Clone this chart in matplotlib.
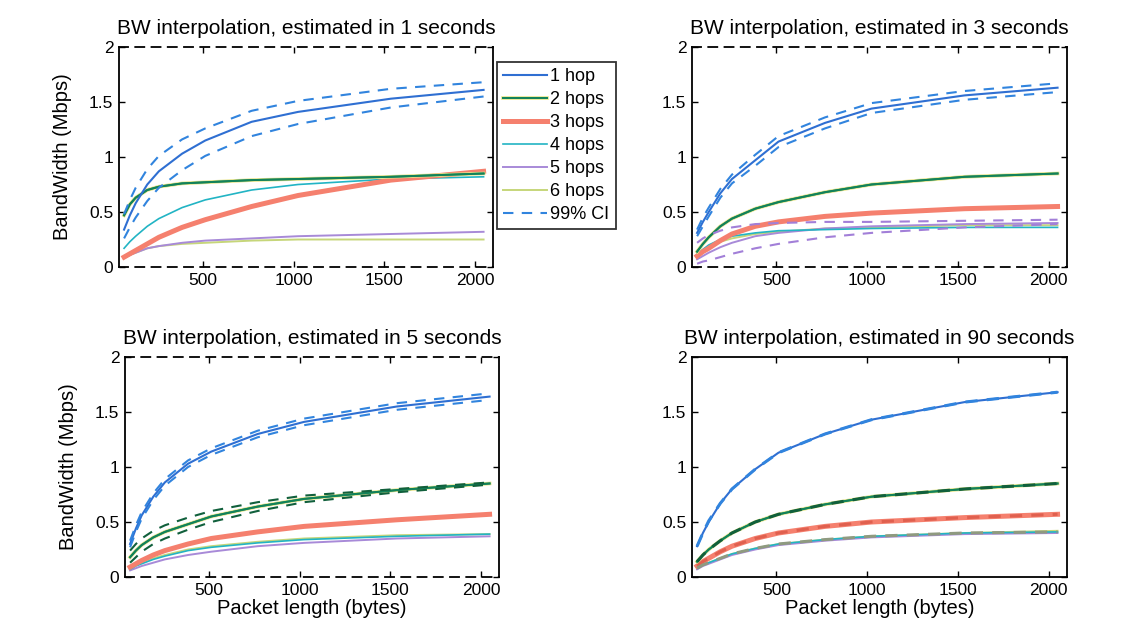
import numpy as np
import matplotlib
matplotlib.use('Agg')
import matplotlib.pyplot as plt
import matplotlib.patheffects as pe

plt.rcParams['font.family'] = ['Liberation Sans', 'DejaVu Sans']

packet_len = [64, 96, 128, 192, 256, 384, 512, 768, 1024, 1536, 2048]
hop_labels = ['1 hop', '2 hops', '3 hops', '4 hops', '5 hops', '6 hops']
est_seconds = [1, 3, 5, 90]

# --- estimated in 1 s
bw1_h1 = [0.34, 0.47, 0.58, 0.75, 0.87, 1.03, 1.15, 1.32, 1.41, 1.53, 1.61]
bw1_h2 = [0.47, 0.57, 0.63, 0.70, 0.73, 0.76, 0.77, 0.79, 0.80, 0.82, 0.85]
bw1_h3 = [0.09, 0.12, 0.15, 0.21, 0.27, 0.36, 0.43, 0.55, 0.65, 0.79, 0.87]
bw1_h4 = [0.17, 0.23, 0.28, 0.37, 0.44, 0.54, 0.61, 0.70, 0.75, 0.80, 0.82]
bw1_h5 = [0.08, 0.11, 0.13, 0.17, 0.19, 0.22, 0.24, 0.26, 0.28, 0.30, 0.32]
bw1_h6 = [0.08, 0.11, 0.13, 0.17, 0.19, 0.21, 0.22, 0.24, 0.25, 0.25, 0.25]
ci1_h1_hi = [0.48, 0.61, 0.72, 0.89, 1.01, 1.16, 1.26, 1.42, 1.51, 1.62, 1.68]
ci1_h1_lo = [0.26, 0.36, 0.45, 0.60, 0.72, 0.88, 1.01, 1.19, 1.30, 1.45, 1.55]

# --- estimated in 3 s
bw3_h1 = [0.31, 0.41, 0.50, 0.67, 0.80, 0.97, 1.14, 1.31, 1.44, 1.56, 1.63]
bw3_h2 = [0.14, 0.21, 0.27, 0.37, 0.44, 0.53, 0.59, 0.68, 0.75, 0.82, 0.85]
bw3_h3 = [0.10, 0.14, 0.17, 0.24, 0.30, 0.37, 0.41, 0.46, 0.49, 0.53, 0.55]
bw3_h4 = [0.12, 0.16, 0.20, 0.25, 0.28, 0.31, 0.33, 0.34, 0.35, 0.36, 0.36]
bw3_h5 = [0.07, 0.10, 0.13, 0.18, 0.22, 0.28, 0.31, 0.35, 0.37, 0.39, 0.40]
bw3_h6 = [0.10, 0.14, 0.18, 0.23, 0.26, 0.30, 0.32, 0.35, 0.36, 0.38, 0.38]
ci3_h1_hi = [0.34, 0.45, 0.54, 0.71, 0.84, 1.02, 1.19, 1.36, 1.49, 1.60, 1.67]
ci3_h1_lo = [0.28, 0.37, 0.46, 0.63, 0.76, 0.92, 1.09, 1.26, 1.40, 1.52, 1.59]
ci3_h5_hi = [0.22, 0.26, 0.29, 0.33, 0.36, 0.39, 0.40, 0.41, 0.41, 0.42, 0.43]
ci3_h5_lo = [0.03, 0.05, 0.06, 0.09, 0.12, 0.17, 0.21, 0.27, 0.31, 0.36, 0.39]

# --- estimated in 5 s
bw5_h1 = [0.30, 0.44, 0.56, 0.73, 0.86, 1.03, 1.14, 1.30, 1.41, 1.55, 1.64]
bw5_h2 = [0.18, 0.24, 0.29, 0.36, 0.41, 0.48, 0.55, 0.64, 0.71, 0.79, 0.85]
bw5_h3 = [0.09, 0.12, 0.15, 0.20, 0.24, 0.30, 0.35, 0.41, 0.46, 0.52, 0.57]
bw5_h4 = [0.07, 0.10, 0.12, 0.16, 0.19, 0.24, 0.27, 0.31, 0.34, 0.37, 0.39]
bw5_h5 = [0.06, 0.08, 0.10, 0.13, 0.16, 0.20, 0.23, 0.28, 0.31, 0.35, 0.37]
bw5_h6 = [0.08, 0.11, 0.13, 0.17, 0.20, 0.25, 0.28, 0.32, 0.35, 0.38, 0.39]
ci5_h1_hi = [0.33, 0.47, 0.59, 0.76, 0.89, 1.06, 1.17, 1.33, 1.44, 1.58, 1.67]
ci5_h1_lo = [0.27, 0.41, 0.53, 0.70, 0.83, 1.00, 1.11, 1.27, 1.38, 1.52, 1.61]
ci5_h2_hi = [0.24, 0.30, 0.35, 0.42, 0.47, 0.54, 0.60, 0.68, 0.74, 0.80, 0.86]
ci5_h2_lo = [0.13, 0.18, 0.23, 0.30, 0.35, 0.43, 0.50, 0.60, 0.68, 0.77, 0.84]

# --- estimated in 90 s
bw90_h1 = [0.28, 0.40, 0.50, 0.67, 0.80, 0.98, 1.13, 1.30, 1.43, 1.59, 1.68]
bw90_h2 = [0.14, 0.20, 0.25, 0.33, 0.40, 0.50, 0.57, 0.66, 0.73, 0.80, 0.85]
bw90_h3 = [0.10, 0.14, 0.17, 0.23, 0.28, 0.35, 0.40, 0.46, 0.50, 0.54, 0.57]
bw90_h4 = [0.08, 0.11, 0.13, 0.17, 0.21, 0.26, 0.30, 0.34, 0.37, 0.40, 0.41]
bw90_h5 = [0.07, 0.10, 0.12, 0.16, 0.20, 0.25, 0.29, 0.33, 0.36, 0.39, 0.40]
bw90_h6 = [0.08, 0.11, 0.13, 0.17, 0.21, 0.26, 0.30, 0.34, 0.37, 0.40, 0.42]
ci90_h1 = [0.28, 0.40, 0.51, 0.67, 0.80, 0.98, 1.13, 1.30, 1.43, 1.59, 1.68]
ci90_h2 = [0.14, 0.20, 0.25, 0.33, 0.40, 0.50, 0.57, 0.66, 0.73, 0.80, 0.85]
ci90_h3 = [0.10, 0.14, 0.17, 0.23, 0.28, 0.35, 0.40, 0.46, 0.50, 0.54, 0.57]
ci90_h6 = [0.08, 0.11, 0.13, 0.17, 0.21, 0.26, 0.30, 0.34, 0.37, 0.40, 0.41]

hop_colors = ['#2f6fd2', '#12825a', '#f5806e', '#22b4c4', '#a88ad8', '#c6d67a']
hop_widths = [1.5, 1.4, 3.6, 1.2, 1.4, 1.4]
ci_colors = ['#3184de', '#11603c', '#e0604f', '#1a9aaa', '#a27fd8', '#8f9a80']

panels = [
    ([bw1_h1, bw1_h2, bw1_h3, bw1_h4, bw1_h5, bw1_h6],
     [(0, ci1_h1_hi), (0, ci1_h1_lo)]),
    ([bw3_h1, bw3_h2, bw3_h3, bw3_h4, bw3_h5, bw3_h6],
     [(0, ci3_h1_hi), (0, ci3_h1_lo), (4, ci3_h5_hi), (4, ci3_h5_lo)]),
    ([bw5_h1, bw5_h2, bw5_h3, bw5_h4, bw5_h5, bw5_h6],
     [(0, ci5_h1_hi), (0, ci5_h1_lo), (1, ci5_h2_hi), (1, ci5_h2_lo)]),
    ([bw90_h1, bw90_h2, bw90_h3, bw90_h4, bw90_h5, bw90_h6],
     [(0, ci90_h1), (1, ci90_h2), (2, ci90_h3), (5, ci90_h6)]),
]

W, H = 1135, 629
fig = plt.figure(figsize=(W / 100, H / 100), dpi=100)
# axes boxes in pixels: left, top, right, bottom
boxes = [(119, 47, 493, 267), (692, 47, 1067, 267),
         (125, 357, 499, 577), (692, 357, 1067, 577)]

legend_handles = []
for k, (series, cis) in enumerate(panels):
    l, t, r, b = boxes[k]
    ax = fig.add_axes([l / W, 1 - b / H, (r - l) / W, (b - t) / H])
    for i in [5, 4, 3, 2, 1, 0]:
        kw = {}
        if i == 1:
            kw['path_effects'] = [pe.withStroke(linewidth=2.6, foreground='#e8e48a'), pe.Normal()]
        ln, = ax.plot(packet_len, series[i], color=hop_colors[i], lw=hop_widths[i],
                      label=hop_labels[i], **kw)
        if k == 0:
            legend_handles.insert(0, ln)
    ci_lw = 2.2 if k == 3 else 1.5
    first_ci = None
    for i, vals in cis:
        cl, = ax.plot(packet_len, vals, color=ci_colors[i], lw=ci_lw,
                      ls=(0, (4, 3)) if k == 3 else (0, (5, 4)))
        if first_ci is None:
            first_ci = cl
    if k == 0:
        legend_handles.append(first_ci)

    ax.set_xlim(36, 2100)
    ax.set_ylim(0, 2)
    ax.set_xticks([500, 1000, 1500, 2000])
    ax.set_yticks([0, 0.5, 1, 1.5, 2])
    ax.set_yticklabels(['0', '0.5', '1', '1.5', '2'])
    ax.tick_params(direction='in', top=True, right=True, length=4, width=1,
                   labelsize=12.5, pad=4)
    for s in ax.spines.values():
        s.set_linewidth(1.3)
    if k < 3:
        for s in ('top', 'bottom'):
            ax.spines[s].set_linestyle((0, (5, 4)))
    ax.set_title('BW interpolation, estimated in %d seconds' % est_seconds[k],
                 fontsize=15, pad=9)
    if k in (0, 2):
        ax.set_ylabel('BandWidth (Mbps)', fontsize=14.5)
        ax.yaxis.set_label_coords(-0.126, 0.5)
    if k in (2, 3):
        ax.set_xlabel('Packet length (bytes)', fontsize=14.5, labelpad=1)

leg = fig.legend(legend_handles, hop_labels + ['99% CI'], loc='upper left',
                 bbox_to_anchor=(497 / W, 1 - 62 / H), fontsize=13,
                 frameon=True, fancybox=False, edgecolor='black',
                 handlelength=2.4, handletextpad=0.2, borderpad=0.35,
                 labelspacing=0.33, borderaxespad=0)
leg.get_frame().set_linewidth(1.3)

fig.savefig('out.png', dpi=100)
